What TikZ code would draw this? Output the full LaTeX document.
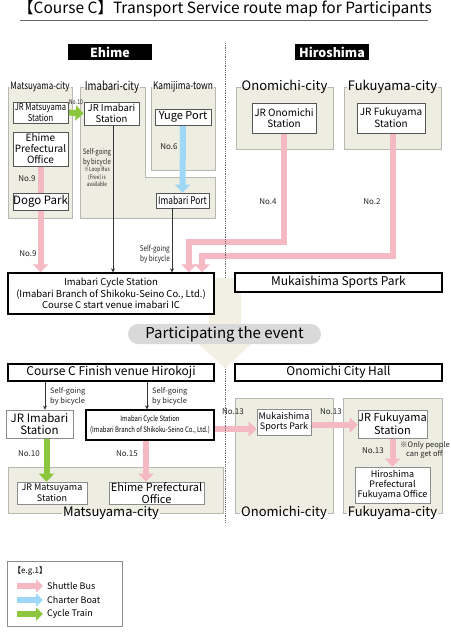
\documentclass[tikz,border=0pt]{standalone}
\usepackage{fontspec}
\setmainfont{Noto Sans CJK JP}
\newfontfamily\condfont[FakeStretch=0.8]{Noto Sans CJK JP}
\usetikzlibrary{arrows.meta}
\pgfdeclarelayer{background}
\pgfdeclarelayer{mid}
\pgfsetlayers{background,mid,main}
\definecolor{pinkc}{HTML}{F5B9C3}
\definecolor{bluec}{HTML}{9ED8F6}
\definecolor{greenc}{HTML}{8CC63F}
\definecolor{panelbg}{HTML}{EEEDE1}
\definecolor{panelbd}{HTML}{B8B8B2}
\definecolor{boxbd}{HTML}{555555}
\definecolor{pillc}{HTML}{D9D9D9}
\definecolor{bigarr}{HTML}{F1F0E3}
\newcommand\fsz[1]{\fontsize{#1}{#1}\selectfont}
\tikzset{
  panel/.style={fill=panelbg, draw=panelbd, line width=0.9pt},
  toplabel/.style={fill=panelbg, inner sep=1.2pt, text=black,
    path picture={\fill[white] (path picture bounding box.north west) rectangle (path picture bounding box.east);}},
  botlabel/.style={fill=white, inner sep=1.2pt, text=black,
    path picture={\fill[panelbg] (path picture bounding box.north west) rectangle (path picture bounding box.east);}},
  box/.style={draw=boxbd, fill=white, line width=0.7pt, align=center, inner sep=0pt},
  bigbox/.style={draw=black, fill=white, line width=1.4pt, align=center, inner sep=0pt},
  header/.style={fill=black, text=white, font=\fsz{12.5}\bfseries, inner sep=0pt, minimum height=16pt},
  pinkarr/.style={draw=pinkc, line width=6pt, -{Triangle[width=15pt,length=8pt]}},
  bluearr/.style={draw=bluec, line width=6pt, -{Triangle[width=15pt,length=8pt]}},
  greenarr/.style={draw=greenc, line width=6pt, -{Triangle[width=15pt,length=8pt]}},
  thinarr/.style={draw=black!80, line width=0.6pt, -{Stealth[length=4pt,width=4pt]}},
  nolab/.style={font=\fsz{8}, inner sep=0pt, text=black!85},
  small/.style={font=\fsz{7.5}, align=left, inner sep=0pt, text=black!85},
}
\begin{document}
\begin{tikzpicture}[x=1pt,y=-1pt]
\useasboundingbox (0,0) rectangle (450,634);
% title
\node[inner sep=0pt] (title) at (225,9) {\fsz{15.5}【Course C】Transport Service route map for Participants};
\coordinate (ul1) at (20,20); \coordinate (ul2) at (428,20);
\draw[black!60, line width=0.9pt] (ul1) -- (ul2);
% headers
\node[header, minimum width=84pt] (ehime) at (110,52) {Ehime};
\node[header, minimum width=74pt] (hiro) at (332,52) {Hiroshima};
\coordinate (dtop) at (225,43); \coordinate (dbot) at (225,522);
\draw[black!60, line width=0.8pt, densely dotted] (dtop) -- (dbot);

% big beige arrow
\fill[bigarr] (209,278) -- (241,278) -- (241,340) -- (256,340) -- (225,368) -- (194,340) -- (209,340) -- cycle;

% panels
\begin{pgfonlayer}{background}
\draw[panel] (8,87) rectangle (72,218);
\draw[panel] (80,87) -- (145,87) -- (145,177) -- (215,177) -- (215,218) -- (80,218) -- cycle;
\draw[panel] (151,87) rectangle (215,170);
\draw[panel] (236,87) rectangle (333,149);
\draw[panel] (344,87) rectangle (441,149);
\draw[panel] (8,467) rectangle (223,513);
\draw[panel] (235,398) rectangle (333,513);
\draw[panel] (343,398) rectangle (442,513);
\end{pgfonlayer}
\node[toplabel, font=\condfont\fsz{10}] (lmat) at (40,87) {Matsuyama-city};
\node[toplabel, font=\condfont\fsz{12}] (limb) at (112,87) {Imabari-city};
\node[toplabel, font=\condfont\fsz{10.5}] (lkam) at (183,87) {Kamijima-town};
\node[toplabel, font=\fsz{13}] (lono) at (284.5,87) {Onomichi-city};
\node[toplabel, font=\fsz{13}] (lfuk) at (392.5,87) {Fukuyama-city};
\node[botlabel, font=\fsz{13}] (lmat2) at (111,513) {Matsuyama-city};
\node[botlabel, font=\fsz{13}] (lono2) at (284,513) {Onomichi-city};
\node[botlabel, font=\fsz{13}] (lfuk2) at (392.5,513) {Fukuyama-city};

% top boxes
\node[box, minimum width=55pt, minimum height=21pt, font=\condfont\fsz{9.5}] (jrmat) at (40.5,112.5) {JR Matsuyama\\[1pt]Station};
\node[box, minimum width=55pt, minimum height=34pt, font=\fsz{10}] (epo) at (40.5,149) {Ehime\\[1pt]Prefectural\\[1pt]Office};
\node[box, minimum width=55pt, minimum height=17pt, font=\fsz{11.5}] (dogo) at (40.5,201.5) {Dogo Park};
\node[box, minimum width=55pt, minimum height=23pt, font=\fsz{9.5}] (jrimb) at (111.5,113.5) {JR Imabari\\[1pt]Station};
\node[box, minimum width=56pt, minimum height=16pt, font=\fsz{11}] (yuge) at (183,117) {Yuge Port};
\node[box, minimum width=53pt, minimum height=15pt, font=\condfont\fsz{10.5}] (imbport) at (182.5,200.5) {Imabari Port};
\node[box, minimum width=64pt, minimum height=30pt, font=\fsz{10}] (jron) at (284,118) {JR Onomichi\\[1pt]Station};
\node[box, minimum width=68pt, minimum height=30pt, font=\fsz{10}] (jrfk) at (391,118) {JR Fukuyama\\[1pt]Station};

\node[bigbox, minimum width=206pt, minimum height=41pt, font=\fsz{9.5}] (ics) at (111,293.5) {Imabari Cycle Station\\[1pt](Imabari Branch of Shikoku-Seino Co., Ltd.)\\[1pt]Course C start venue imabari IC};
\node[bigbox, minimum width=207pt, minimum height=19pt, font=\fsz{12}] (msp) at (338.5,282.5) {Mukaishima Sports Park};
\node[fill=pillc, rounded corners=10pt, minimum width=193pt, minimum height=20pt, inner sep=0pt, font=\fsz{15}] (pill) at (224.5,334) {Participating the event};

% bottom boxes
\node[bigbox, minimum width=206pt, minimum height=17pt, font=\fsz{12}] (finish) at (111,372.5) {Course C Finish venue Hirokoji};
\node[bigbox, minimum width=207pt, minimum height=17pt, font=\fsz{12}] (och) at (338.5,372.5) {Onomichi City Hall};
\node[box, draw=black!45, minimum width=67pt, minimum height=28pt, font=\fsz{11.5}] (jrimb2) at (39.5,424) {JR Imabari\\[1pt]Station};
\node[bigbox, minimum width=128pt, minimum height=30pt, font=\condfont\fsz{7.5}] (ics2) at (150,425) {Imabari Cycle Station\\[2pt](Imabari Branch of Shikoku-Seino Co., Ltd.)};
\node[box, draw=black!45, minimum width=70pt, minimum height=22pt, font=\fsz{9}] (jrmat2) at (52,493) {JR Matsuyama\\[1pt]Station};
\node[box, draw=black!45, minimum width=95pt, minimum height=22pt, font=\fsz{11}] (epo2) at (156.5,493) {Ehime Prefectural\\[1pt]Office};
\node[box, draw=black!45, minimum width=54pt, minimum height=26pt, font=\fsz{9}] (msp2) at (284,422) {Mukaishima\\[1pt]Sports Park};
\node[box, draw=black!45, minimum width=69pt, minimum height=28pt, font=\fsz{11}] (jrfk2) at (392.5,424) {JR Fukuyama\\[1pt]Station};
\node[box, draw=black!45, minimum width=75pt, minimum height=36pt, font=\fsz{9}] (hpfo) at (392.5,485) {Hiroshima\\[1pt]Prefectural\\[1pt]Fukuyama Office};

% connectors top
\begin{pgfonlayer}{mid}
\draw[pinkarr] (epo.south) -- (epo.south |- ics.north);
\draw[greenarr] (jrmat.east) -- (jrimb.west);
\draw[bluearr] (yuge.south) -- (imbport.north);
\coordinate (b1) at (189,242);
\coordinate (b2) at (202,256);
\draw[pinkarr, line join=miter] (jron.south) |- (b1) -- (b1 |- ics.north);
\draw[pinkarr, line join=miter] ([xshift=2pt]jrfk.south) |- (b2) -- (b2 |- ics.north);
\end{pgfonlayer}
\draw[thinarr] ([xshift=1.5pt]jrimb.south) coordinate (t0) -- (t0 |- ics.north);
\draw[thinarr] ([xshift=-10.5pt]imbport.south) coordinate (t1) -- (t1 |- ics.north);

\node[nolab] (n9a) at (27,179) {No.9};
\node[nolab] (n9b) at (28,254) {No.9};
\node[nolab, font=\condfont\fsz{6.5}] (n10a) at (76,102) {No.10};
\node[nolab] (n6) at (169,147) {No.6};
\node[nolab] (n4) at (268,202) {No.4};
\node[nolab] (n2) at (372,202) {No.2};
\node[small, align=center, font=\condfont\fsz{7.5}] (sg1) at (97,157) {Self-going\\[1pt]by bicycle};
\node[small, align=center, font=\condfont\fsz{6}] (loop) at (97,177) {※Loop Bus\\[1pt](Free) is\\[1pt]available};
\node[small, align=right, anchor=east, font=\condfont\fsz{8}] (sg2) at (170,254.5) {Self-going\\[1pt]by bicycle};

% connectors bottom
\draw[thinarr] ([xshift=-66pt]finish.south) coordinate (t2) -- (t2 |- jrimb2.north);
\draw[thinarr] ([xshift=36pt]finish.south) coordinate (t3) -- (t3 |- ics2.north);
\node[small, anchor=west] (sg3) at (50,396) {Self-going\\[1pt]by bicycle};
\node[small, anchor=west] (sg4) at (152,396) {Self-going\\[1pt]by bicycle};
\begin{pgfonlayer}{mid}
\draw[greenarr] ([xshift=7pt]jrimb2.south) coordinate (g2) -- (g2 |- jrmat2.north);
\draw[pinkarr] ([xshift=-4pt]ics2.south) coordinate (p2) -- (p2 |- epo2.north);
\draw[pinkarr] ([yshift=-4pt]ics2.east) coordinate (p3) -- (p3 -| msp2.west);
\draw[pinkarr] ([yshift=-3pt]msp2.east) coordinate (p4) -- (p4 -| jrfk2.west);
\draw[pinkarr] (jrfk2.south) -- (hpfo.north);
\end{pgfonlayer}
\node[nolab] (n10b) at (29,454) {No.10};
\node[nolab] (n15) at (127,454) {No.15};
\node[nolab] (n13a) at (233,412) {No.13};
\node[nolab] (n13b) at (331,412) {No.13};
\node[nolab] (n13c) at (373,451) {No.13};
\node[small, anchor=west, align=left, font=\fsz{7.5}] (only) at (400,450) {※Only people\\[1pt]\hspace*{6pt}can get off};

% legend
\draw[black!45, line width=0.7pt] (7,561) rectangle (122,626);
\node[anchor=west, inner sep=0pt, font=\fsz{8}] (eg) at (13,571) {【e.g.1】};
\coordinate (la1) at (17,586); \coordinate (la1e) at (43,586);
\coordinate (la2) at (17,600); \coordinate (la2e) at (43,600);
\coordinate (la3) at (17,614); \coordinate (la3e) at (43,614);
\draw[pinkarr, -{Triangle[width=13pt,length=7pt]}] (la1) -- (la1e);
\draw[bluearr, -{Triangle[width=13pt,length=7pt]}] (la2) -- (la2e);
\draw[greenarr, -{Triangle[width=13pt,length=7pt]}] (la3) -- (la3e);
\node[anchor=west, inner sep=0pt, font=\fsz{9}] (lg1) at (47,586) {Shuttle Bus};
\node[anchor=west, inner sep=0pt, font=\fsz{9}] (lg2) at (47,600) {Charter Boat};
\node[anchor=west, inner sep=0pt, font=\fsz{9}] (lg3) at (47,614) {Cycle Train};
\end{tikzpicture}
\end{document}
